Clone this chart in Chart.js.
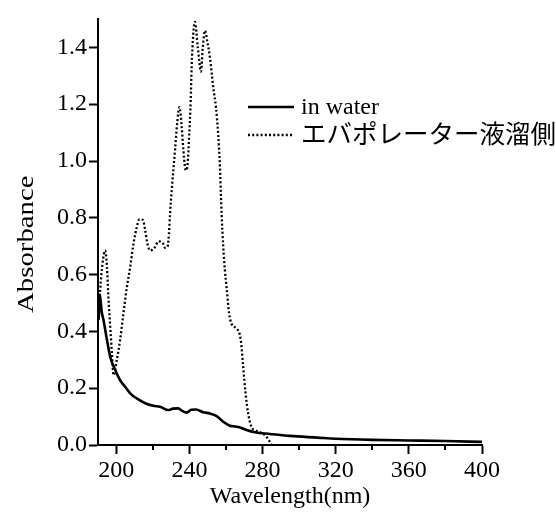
<!DOCTYPE html>
<html>
<head>
<meta charset="utf-8">
<script src="https://cdn.jsdelivr.net/npm/chart.js@4/dist/chart.umd.min.js"></script>
<style>
  html, body { margin: 0; padding: 0; background: #fff; }
  #wrap { width: 556px; height: 516px; position: relative; }
</style>
</head>
<body>
<div id="wrap"><canvas id="c" width="556" height="516"></canvas></div>
<script>
// ---- data ----
const seriesNames = ['in water', 'エバポレーター液溜側'];

const waterWavelength = [190.3, 191, 192, 193, 194.9, 196.7, 199.4, 202.1, 204.8, 207.6, 211.2, 215.8, 220.3, 223.9, 228.5, 231, 233.9, 236, 238.5, 241, 243.6, 247.6, 251.2, 254.9, 258.5, 262.1, 265, 267.6, 271.2, 275.8, 284, 294.9, 310, 320, 340, 360, 380, 400];
const waterAbsorbance = [0.44, 0.53, 0.47, 0.44, 0.37, 0.31, 0.264, 0.228, 0.205, 0.182, 0.164, 0.147, 0.138, 0.135, 0.123, 0.128, 0.129, 0.12, 0.114, 0.124, 0.125, 0.115, 0.111, 0.102, 0.082, 0.068, 0.065, 0.062, 0.053, 0.045, 0.039, 0.032, 0.026, 0.022, 0.018, 0.016, 0.014, 0.011];

const evapWavelength = [190.5, 191.2, 192.5, 193.9, 194.9, 195.7, 196.7, 197.6, 198.5, 200.3, 202.1, 203.9, 205.8, 207.6, 209.4, 211.2, 212.6, 214.5, 215.8, 217, 218.5, 221.2, 223, 225.4, 226.7, 228.1, 228.8, 229.4, 230.3, 232.1, 233.4, 234.5, 235.8, 236.7, 237.6, 238.1, 239, 239.9, 240.7, 241.2, 242.1, 243, 244.6, 246.3, 247.3, 248.5, 249.8, 251.2, 253, 254.5, 255.7, 256.7, 257.2, 257.6, 258.5, 259.4, 260.3, 261.7, 263, 265.8, 267.6, 268.5, 269.4, 270.7, 272.1, 273.9, 275.8, 280, 282, 285];
const evapAbsorbance = [0.45, 0.545, 0.64, 0.685, 0.627, 0.52, 0.416, 0.323, 0.246, 0.30, 0.37, 0.463, 0.556, 0.627, 0.709, 0.767, 0.794, 0.793, 0.756, 0.709, 0.685, 0.697, 0.717, 0.711, 0.694, 0.70, 0.744, 0.814, 0.896, 1.037, 1.14, 1.19, 1.12, 1.037, 0.978, 0.967, 0.99, 1.096, 1.213, 1.33, 1.447, 1.49, 1.40, 1.315, 1.40, 1.459, 1.42, 1.365, 1.26, 1.19, 1.096, 0.978, 0.885, 0.815, 0.697, 0.615, 0.556, 0.463, 0.427, 0.41, 0.387, 0.346, 0.275, 0.183, 0.112, 0.064, 0.053, 0.04, 0.03, 0.0];

const xMin = 190, xMax = 400, xStep = 20, xLabelStep = 40;
const yMin = 0, yMax = 1.5, yStep = 0.2, yLastLabel = 1.4;
const xTitle = 'Wavelength(nm)';
const yTitle = 'Absorbance';

// ---- styling ----
const SERIF = '"Liberation Serif", "Times New Roman", "Noto Sans CJK JP", serif';
const FS = 24;
const legendFontSizes = [24, 25.5];

function toPoints(xs, ys) { return xs.map((x, i) => ({ x: x, y: ys[i] })); }

const extras = {
  id: 'extras',
  afterDraw(chart) {
    const ctx = chart.ctx;
    const xs = chart.scales.x;
    const ys = chart.scales.y;
    const area = chart.chartArea;
    ctx.save();
    // minor x ticks
    ctx.strokeStyle = '#000';
    ctx.lineWidth = 2;
    for (let v = Math.ceil(xMin / xStep) * xStep; v <= xMax; v += xStep) {
      if (v % xLabelStep !== 0) {
        const px = Math.round(xs.getPixelForValue(v));
        ctx.beginPath();
        ctx.moveTo(px, area.bottom);
        ctx.lineTo(px, area.bottom + 5);
        ctx.stroke();
      }
    }
    // y title
    ctx.fillStyle = '#000';
    ctx.font = FS + 'px ' + SERIF;
    ctx.textAlign = 'center';
    ctx.textBaseline = 'middle';
    const yc = (ys.getPixelForValue(0) + ys.getPixelForValue(yLastLabel)) / 2 - 2;
    ctx.translate(27, yc);
    ctx.rotate(-Math.PI / 2);
    ctx.scale(1.2, 1);
    ctx.fillText(yTitle, 0, 0);
    ctx.restore();

    // legend
    ctx.save();
    ctx.textAlign = 'left';
    ctx.textBaseline = 'middle';
    ctx.fillStyle = '#000';
    chart.data.datasets.forEach((ds, i) => {
      const y = 107 + i * 28;
      ctx.strokeStyle = '#000';
      ctx.lineWidth = ds.borderWidth;
      ctx.setLineDash(ds.borderDash || []);
      ctx.beginPath();
      ctx.moveTo(248, y);
      ctx.lineTo(294, y);
      ctx.stroke();
      ctx.setLineDash([]);
      ctx.font = legendFontSizes[i] + 'px ' + SERIF;
      ctx.fillText(ds.label, 301, y + 1);
    });
    ctx.restore();
  }
};

new Chart(document.getElementById('c'), {
  type: 'line',
  data: {
    datasets: [
      {
        label: seriesNames[0],
        data: toPoints(waterWavelength, waterAbsorbance),
        borderColor: '#000',
        borderWidth: 2.6,
        pointRadius: 0,
        cubicInterpolationMode: 'monotone',
        fill: false
      },
      {
        label: seriesNames[1],
        data: toPoints(evapWavelength, evapAbsorbance),
        borderColor: '#000',
        borderWidth: 2.3,
        borderDash: [2, 2.2],
        pointRadius: 0,
        cubicInterpolationMode: 'monotone',
        fill: false
      }
    ]
  },
  options: {
    responsive: false,
    animation: false,
    devicePixelRatio: 1,
    layout: { padding: { top: 19, right: 74, left: 0, bottom: 0 } },
    plugins: { legend: { display: false }, tooltip: { enabled: false } },
    scales: {
      x: {
        type: 'linear',
        min: xMin, max: xMax,
        afterBuildTicks(axis) { axis.ticks = axis.ticks.filter(t => t.value % xLabelStep === 0); },
        afterFit(scale) { scale.height = 71; },
        ticks: {
          stepSize: xLabelStep,
          includeBounds: false,
          autoSkip: false,
          maxRotation: 0,
          color: '#000',
          font: { family: SERIF, size: FS },
          padding: 2
        },
        grid: { drawOnChartArea: false, drawTicks: true, tickLength: 9, tickWidth: 2, tickColor: '#000' },
        border: { display: true, color: '#000', width: 2 },
        title: { display: true, text: xTitle, color: '#000', font: { family: SERIF, size: FS }, padding: { top: 0, bottom: 5 } }
      },
      y: {
        type: 'linear',
        min: yMin, max: yMax,
        afterBuildTicks(axis) { axis.ticks = axis.ticks.filter(t => t.value <= yLastLabel + 1e-9); },
        afterFit(scale) { scale.width = 98; },
        ticks: {
          stepSize: yStep,
          color: '#000',
          font: { family: SERIF, size: FS },
          padding: 2,
          callback: (v) => Number(v).toFixed(1)
        },
        grid: { drawOnChartArea: false, drawTicks: true, tickLength: 9, tickWidth: 2, tickColor: '#000' },
        border: { display: true, color: '#000', width: 2 }
      }
    }
  },
  plugins: [extras]
});
</script>
</body>
</html>
